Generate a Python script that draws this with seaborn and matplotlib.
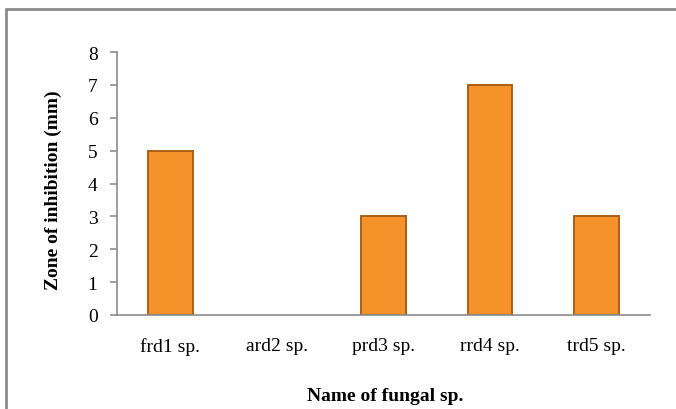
import matplotlib
matplotlib.use('Agg')
import matplotlib.pyplot as plt
import seaborn as sns
import pandas as pd
from matplotlib.patches import Rectangle

# data
species = ['frd1 sp.', 'ard2 sp.', 'prd3 sp.', 'rrd4 sp.', 'trd5 sp.']
zone = [5, 0, 3, 7, 3]

df = pd.DataFrame({'species': species, 'zone': zone})

sns.set_style('white')
plt.rcParams['font.family'] = ['Liberation Serif', 'DejaVu Serif']
plt.rcParams['text.color'] = 'black'
plt.rcParams['axes.labelcolor'] = 'black'
plt.rcParams['xtick.labelcolor'] = 'black'
plt.rcParams['ytick.labelcolor'] = 'black'

fig = plt.figure(figsize=(6.76, 4.10), dpi=100)
ax = fig.add_axes([117 / 676, 1 - 316 / 410, (650 - 117) / 676, (316 - 53) / 410])

sns.barplot(data=df, x='species', y='zone', color='#F5922A', width=0.42,
            edgecolor='#A95F18', linewidth=1.4, saturation=1, ax=ax)
# empty bars show no outline in the original
for p in ax.patches:
    if p.get_height() == 0:
        p.set_visible(False)

ax.set_ylim(0, 8)
ax.set_xlim(-0.5, 4.5)
ax.set_yticks(range(0, 9))
ax.set_xticks([i - 0.5 for i in range(6)], minor=True)
ax.tick_params(axis='x', which='major', length=0, pad=16, labelsize=14)
ax.tick_params(axis='x', which='minor', length=5, color='#8c8c8c', width=1.2)
ax.tick_params(axis='y', length=5, color='#8c8c8c', width=1.2, labelsize=14, pad=9, left=True)

for s in ['top', 'right']:
    ax.spines[s].set_visible(False)
for s in ['left', 'bottom']:
    ax.spines[s].set_color('#8c8c8c')
    ax.spines[s].set_linewidth(1.2)

ax.set_xlabel('Name of fungal sp.', fontweight='bold', fontsize=14)
ax.set_ylabel('Zone of inhibition (mm)', fontweight='bold', fontsize=14)
ax.xaxis.set_label_coords((385 - 117) / 533, -(388 - 316) / 263)
ax.yaxis.set_label_coords((62 - 117) / 533, 0.48)

# outer chart border
fig.patches.append(Rectangle((6 / 676, -0.05), 1.1, 1 - 10 / 410 + 0.05, transform=fig.transFigure,
                             fill=False, edgecolor='#8c8c8c', linewidth=2))

fig.savefig('out.png', dpi=100)
